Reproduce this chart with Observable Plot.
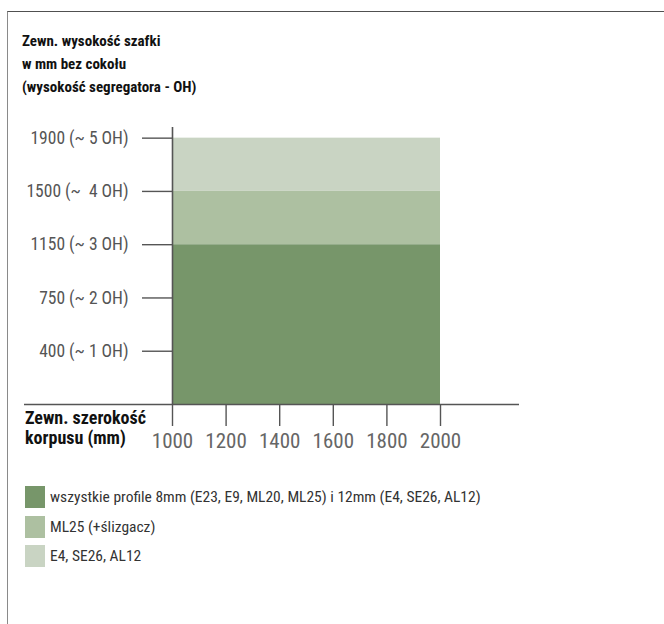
<!DOCTYPE html>
<html>
<head>
<meta charset="utf-8">
<script src="https://cdn.jsdelivr.net/npm/d3@7"></script>
<script src="https://cdn.jsdelivr.net/npm/@observablehq/plot@0.6"></script>
<style>
  html, body { margin: 0; padding: 0; background: #fff; }
  body { width: 664px; height: 624px; position: relative; overflow: hidden;
         font-family: "Liberation Sans Narrow", "Roboto Condensed", "DejaVu Sans Condensed", sans-serif; }
  #frame { position: absolute; left: 7px; top: 11px; width: 700px; height: 700px;
           border-top: 1.5px solid #505050; border-left: 1.5px solid #8a8a8a; }
  #title { position: absolute; left: 22px; top: 30px; font-size: 15px; line-height: 23px;
           font-weight: bold; color: #111; }
  #xlabel { position: absolute; left: 25px; top: 408px; font-size: 18px; line-height: 20px;
            font-weight: bold; color: #111; }
  #chart { position: absolute; left: 0; top: 100px; }
  #legend { position: absolute; left: 25px; top: 486px; font-size: 15.5px; color: #333; }
  .row { display: flex; align-items: center; height: 22px; margin-bottom: 7.5px; }
  .sw { width: 20px; height: 22px; margin-right: 5px; flex: none; }
</style>
</head>
<body>
<div id="frame"></div>
<div id="title"></div>
<div id="chart"></div>
<div id="xlabel"></div>
<div id="legend"></div>
<script>
// ---- data ----
const titleLines = ["Zewn. wysokość szafki", "w mm bez cokołu", "(wysokość segregatora - OH)"];
const xLabelLines = ["Zewn. szerokość", "korpusu (mm)"];
const categories = [
  "wszystkie profile 8mm (E23, E9, ML20, ML25) i 12mm (E4, SE26, AL12)",
  "ML25 (+ślizgacz)",
  "E4, SE26, AL12"
];
const widthFrom = [1000, 1000, 1000];          // mm
const widthTo = [2000, 2000, 2000];            // mm
const heightFrom = [0, 3, 4];                  // OH
const heightTo = [3, 4, 5];                    // OH
const colors = ["#77966a", "#adc0a1", "#c9d4c3"];
const yTicks = [1, 2, 3, 4, 5];
const yTickLabels = ["400 (~ 1 OH)", "750 (~ 2 OH)", "1150 (~ 3 OH)", "1500 (~  4 OH)", "1900 (~ 5 OH)"];
const xTicks = [1000, 1200, 1400, 1600, 1800, 2000];

// ---- build ----
document.getElementById("title").innerHTML = titleLines.join("<br>");
document.getElementById("xlabel").innerHTML = xLabelLines.join("<br>");

const rows = categories.map((c, i) => ({
  cat: c, x1: widthFrom[i], x2: widthTo[i], y1: heightFrom[i], y2: heightTo[i]
}));

const fontFam = '"Liberation Sans Narrow", "Roboto Condensed", "DejaVu Sans Condensed", sans-serif';

const plot = Plot.plot({
  width: 664,
  height: 360,
  marginLeft: 172,
  marginRight: 224,
  marginTop: 27,
  marginBottom: 56,
  style: { fontFamily: fontFam, background: "transparent", overflow: "visible" },
  x: { domain: [1000, 2000] },
  y: { domain: [0, 5.2] },
  color: { domain: categories, range: colors },
  marks: [
    Plot.rect(rows, { x1: "x1", x2: "x2", y1: "y1", y2: "y2", fill: "cat" }),
    Plot.axisY({
      ticks: yTicks, tickSize: 30, tickPadding: 14, label: null,
      tickFormat: (d) => yTickLabels[yTicks.indexOf(d)],
      fontSize: 17.5, fill: "#555", stroke: "#555", strokeWidth: 1.4, strokeOpacity: 1
    }),
    Plot.axisX({
      ticks: xTicks, tickSize: 22, tickPadding: 7, label: null, tickFormat: (d) => String(d),
      fontSize: 21, fill: "#666", stroke: "#555", strokeWidth: 1.4, strokeOpacity: 1
    }),
    Plot.ruleX([1000], { stroke: "#555", strokeWidth: 1.6 }),
    Plot.ruleY([0], { stroke: "#555", strokeWidth: 1.6, insetLeft: -148, insetRight: -79 })
  ]
});
plot.querySelectorAll("text").forEach(t => t.setAttribute("xml:space", "preserve"));
plot.style.whiteSpace = "pre";
document.getElementById("chart").appendChild(plot);

const legend = document.getElementById("legend");
categories.forEach((c, i) => {
  const r = document.createElement("div");
  r.className = "row";
  r.innerHTML = `<span class="sw" style="background:${colors[i]}"></span><span></span>`;
  r.lastChild.textContent = c;
  legend.appendChild(r);
});
</script>
</body>
</html>
